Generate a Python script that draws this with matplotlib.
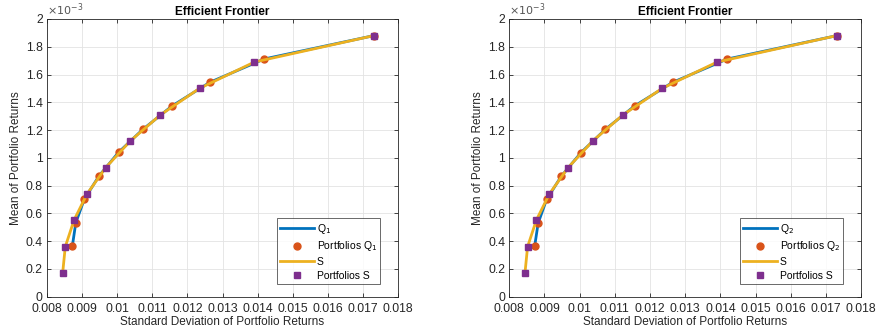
import numpy as np
import matplotlib.pyplot as plt

plt.rcParams['font.family'] = ['Liberation Sans', 'DejaVu Sans']

# portfolio std devs / means (means in units of 1e-3)
s_std = [0.008446, 0.00852, 0.00877, 0.00914, 0.00967, 0.01037, 0.01123, 0.01235, 0.01391, 0.01731]
s_mean = [0.173, 0.360, 0.552, 0.740, 0.929, 1.121, 1.309, 1.501, 1.690, 1.880]

q1_std = [0.00872, 0.00882, 0.00906, 0.00948, 0.01004, 0.01073, 0.01156, 0.01264, 0.01419, 0.01731]
q1_mean = [0.363, 0.533, 0.701, 0.869, 1.040, 1.205, 1.373, 1.544, 1.712, 1.880]

q2_std = [0.00872, 0.00882, 0.00906, 0.00948, 0.01004, 0.01073, 0.01156, 0.01264, 0.01419, 0.01731]
q2_mean = [0.362, 0.530, 0.700, 0.868, 1.038, 1.205, 1.373, 1.543, 1.711, 1.880]

xticks = [0.008, 0.009, 0.010, 0.011, 0.012, 0.013, 0.014, 0.015, 0.016, 0.017, 0.018]
xticklabels = ["0.008", "0.009", "0.01", "0.011", "0.012", "0.013", "0.014", "0.015", "0.016", "0.017", "0.018"]
yticks = [0, 0.2, 0.4, 0.6, 0.8, 1.0, 1.2, 1.4, 1.6, 1.8, 2.0]
yticklabels = ["0", "0.2", "0.4", "0.6", "0.8", "1", "1.2", "1.4", "1.6", "1.8", "2"]

blue = "#0072BD"
orange = "#D95319"
yellow = "#EDB120"
purple = "#7E2F8E"
tc = "#262626"

fig = plt.figure(figsize=(8.76, 3.36), dpi=100)
ax1 = fig.add_axes([0.0537, 0.117, 0.4006, 0.8265])
ax2 = fig.add_axes([0.5814, 0.117, 0.4015, 0.8265])


def draw(ax, q_std, q_mean, qname):
    ax.plot(q_std, q_mean, color=blue, lw=2, label=qname, zorder=3)
    ax.plot(q_std, q_mean, 'o', color=orange, ms=5, mec=orange, label="Portfolios " + qname, zorder=4)
    ax.plot(s_std, s_mean, color=yellow, lw=2, label="S", zorder=5)
    ax.plot(s_std, s_mean, 's', color=purple, ms=4.5, mec=purple, label="Portfolios S", zorder=6)
    ax.set_xlim(0.008, 0.018)
    ax.set_ylim(0, 2)
    ax.set_xticks(xticks)
    ax.set_xticklabels(xticklabels)
    ax.set_yticks(yticks)
    ax.set_yticklabels(yticklabels)
    ax.tick_params(direction='in', length=3, width=0.6, labelsize=8.8, colors=tc, top=True, right=True,
                   labeltop=False, labelright=False, pad=3)
    ax.tick_params(axis='x', pad=4.5)
    ax.grid(True, color="#e3e3e3", lw=0.6)
    ax.set_axisbelow(True)
    for sp in ax.spines.values():
        sp.set_color(tc)
        sp.set_linewidth(0.6)
    ax.set_title("Efficient Frontier", fontsize=8.5, fontweight='bold', color='black', pad=3)
    ax.set_xlabel("Standard Deviation of Portfolio Returns", fontsize=8.5, color=tc, labelpad=1)
    ax.set_ylabel("Mean of Portfolio Returns", fontsize=8.5, color=tc, labelpad=3)
    ax.text(0.0, 1.005, r"$\times10^{-3}$", transform=ax.transAxes, fontsize=8, color="#555555",
            ha='left', va='bottom')
    leg = ax.legend(loc='lower right', bbox_to_anchor=(0.949, 0.047), fontsize=7.5, frameon=True,
                    fancybox=False, edgecolor=tc, handlelength=3.2, borderpad=0.3, labelspacing=0.35,
                    handletextpad=0.3, borderaxespad=0)
    leg.get_frame().set_linewidth(0.6)


draw(ax1, q1_std, q1_mean, "Q$_1$")
draw(ax2, q2_std, q2_mean, "Q$_2$")

fig.savefig("out.png", dpi=100)
